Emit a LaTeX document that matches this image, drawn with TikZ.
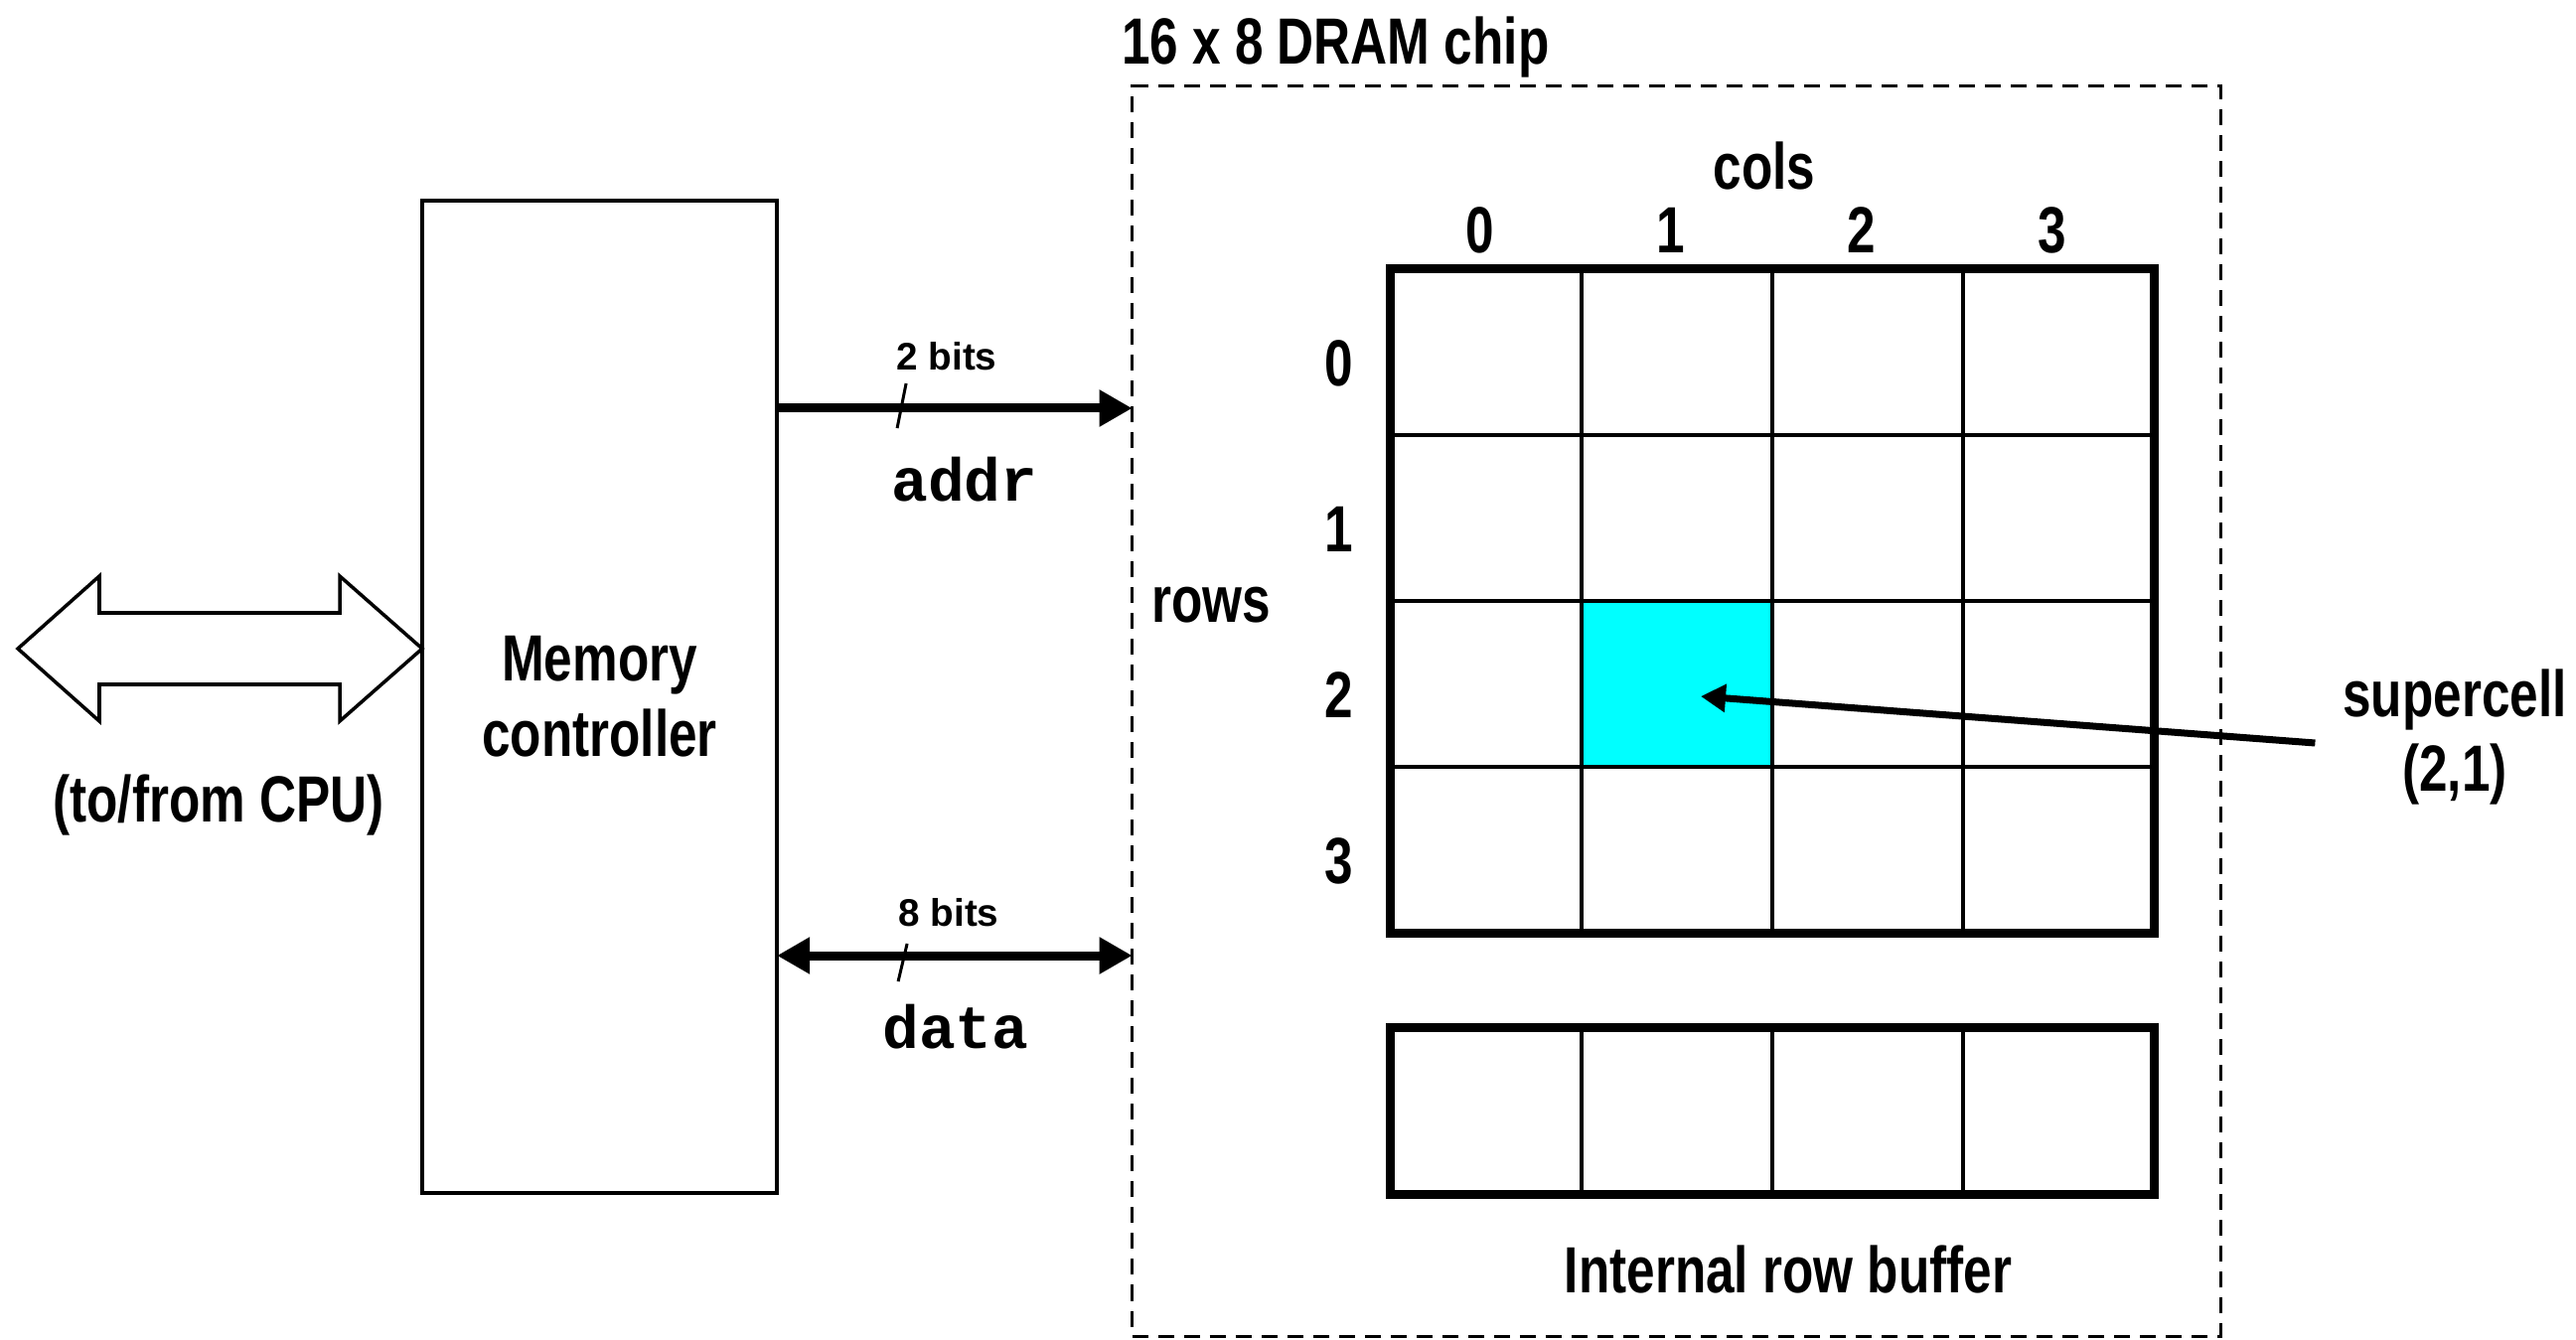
\documentclass[tikz,border=0pt]{standalone}
\usepackage{fontspec}
\setmainfont{Liberation Sans}[FakeStretch=0.78]
\newfontfamily\bitsfont{Liberation Sans}
\setmonofont{Liberation Mono}
\usetikzlibrary{arrows.meta,positioning}
\definecolor{cellcyan}{RGB}{0,255,255}

\begin{document}
\begin{tikzpicture}[x=0.01cm,y=-0.01cm,>={Triangle[length=0.33cm,width=0.35cm]},
    every node/.style={inner sep=0pt,outer sep=0pt},
    lbl/.style={font=\fontsize{18.7}{21.6}\selectfont\bfseries,align=center},
    bitlbl/.style={font=\bitsfont\fontsize{11}{13}\selectfont\bfseries},
    sig/.style={font=\ttfamily\fontsize{17.4}{20}\selectfont\bfseries},
    cellbox/.style={draw,line width=0.035cm,minimum width=1.92cm,minimum height=1.67cm},
    frame/.style={line width=0.09cm},
    bus/.style={line width=0.09cm},
    tick/.style={line width=0.03cm}]
    \useasboundingbox (0,0) rectangle (2593,1349);

    % controller and cpu side
    \node[draw,line width=0.038cm,minimum width=3.57cm,minimum height=9.99cm,lbl] (mc) at (603.5,701.5) {Memory\\controller};
    \draw[line width=0.035cm] (18,653) -- (100,580) -- (100,617) -- (342,617) -- (342,580) -- (425,653)
        -- (342,726) -- (342,689) -- (100,689) -- (100,726) -- cycle;
    \node[lbl] (cpu) at (220,810) {(to/from CPU)};

    % the chip
    \node[draw,dash pattern=on 0.16cm off 0.1cm,line width=0.025cm,minimum width=10.95cm,minimum height=12.58cm] (chip) at (1687.5,716) {};
    \node[lbl,anchor=base west] (title) at (1129,65) {16 x 8 DRAM chip};

    \coordinate (addrY) at (0,411);
    \coordinate (dataY) at (0,962);
    \coordinate (addrL) at (mc.east |- addrY);
    \coordinate (addrR) at (chip.west |- addrY);
    \coordinate (dataL) at (mc.east |- dataY);
    \coordinate (dataR) at (chip.west |- dataY);
    \draw[bus,->] (addrL) -- (addrR);
    \draw[bus,<->] (dataL) -- (dataR);
    \draw[tick] ([shift={(130,-25)}]addrL) -- ([shift={(121,20)}]addrL);
    \draw[tick] ([shift={(131,-12)}]dataL) -- ([shift={(122,26)}]dataL);
    \node[bitlbl,anchor=base] (abits) at (953,373) {2 bits};
    \node[bitlbl,anchor=base] (dbits) at (955,932) {8 bits};
    \node[sig,anchor=base] (addr) at (971,505) {addr};
    \node[sig,anchor=base] (data) at (962,1055) {data};

    % cell array
    \node[fill=cellcyan,minimum width=1.92cm,minimum height=1.67cm] (sc) at (1688,688.5) {};
    \foreach \r in {0,...,3}
        \foreach \c in {0,...,3}
            \node[cellbox] (cell-\r-\c) at ({1496+192*\c},{354.5+167*\r}) {};
    \draw[frame] (cell-0-0.north west) rectangle (cell-3-3.south east);
    \foreach \c in {0,...,3}{
        \node[lbl] (col-\c) at ({1490+192*\c},232) {\c};
        \node[lbl] (row-\c) at (1348,{366+167*\c}) {\c};
    }
    \node[lbl] (cols) at (1776,167) {cols};
    \node[lbl] (rows) at (1219,609) {rows};

    % row buffer
    \foreach \c in {0,...,3}
        \node[cellbox] (buf-\c) at ({1496+192*\c},1118.5) {};
    \draw[frame] (buf-0.north west) rectangle (buf-3.south east);
    \node[lbl] (buflbl) at (1800,1278) {Internal row buffer};

    \node[lbl] (sclbl) at (2471,742) {supercell\\(2,1)};
    \draw[line width=0.07cm,-{Triangle[length=0.25cm,width=0.27cm]}] ([shift={(-28,6)}]sclbl.west) -- ([shift={(24,12.5)}]sc.center);
\end{tikzpicture}
\end{document}
